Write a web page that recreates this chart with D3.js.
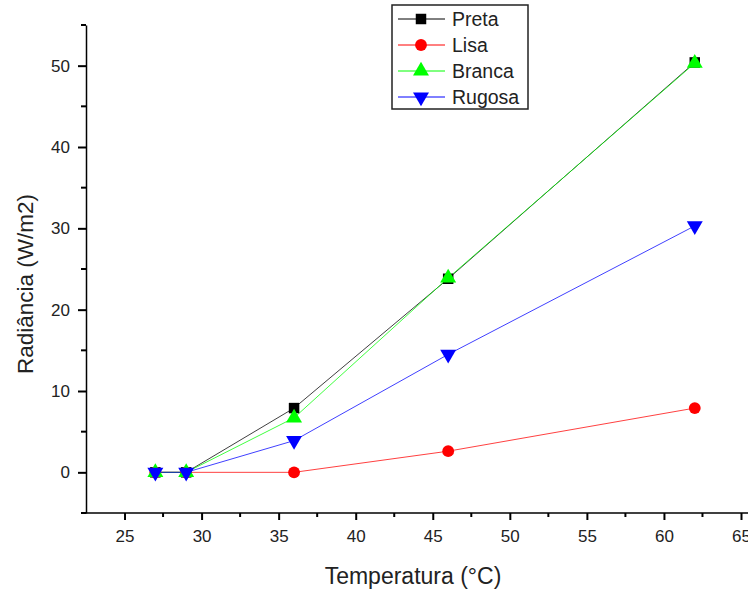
<!DOCTYPE html>
<meta charset="utf-8">
<style>
body { margin: 0; background: #fff; }
text { font-family: Arial, "Liberation Sans", sans-serif; fill: #222; }
</style>
<svg width="748" height="592"></svg>
<script src="https://d3js.org/d3.v7.min.js"></script>
<script>

var temps = [27, 29, 36, 46, 62];
var preta = [0, 0, 7.9, 23.8, 50.4];
var lisa = [0, 0, 0, 2.6, 7.9];
var branca = [0, 0, 6.7, 23.9, 50.3];
var rugosa = [0, 0, 3.9, 14.5, 30.3];
var xTicks = [25, 30, 35, 40, 45, 50, 55, 60, 65];
var yTicks = [0, 10, 20, 30, 40, 50];

var series = [
  {name: "Preta", values: preta, color: "#000000", symbol: d3.symbolSquare},
  {name: "Lisa", values: lisa, color: "#ff0000", symbol: d3.symbolCircle},
  {name: "Branca", values: branca, color: "#00ff00", symbol: d3.symbolTriangle},
  {name: "Rugosa", values: rugosa, color: "#0000ff", symbol: "down"}
];

var svg = d3.select("svg");

var x = d3.scaleLinear().domain([22.5, 65]).range([86, 741]),
    y = d3.scaleLinear().domain([-5, 55]).range([513, 25]);

// axes
var gx = svg.append("g").attr("transform", "translate(0,513)");
gx.call(d3.axisBottom(x).tickValues(xTicks).tickSize(7).tickPadding(10).tickSizeOuter(0));
gx.select(".domain").attr("d", "M86,0H748");
gx.selectAll(".tick line").attr("stroke-width", 2);
gx.selectAll(".tick text").attr("font-size", 17);
gx.selectAll(".minor").data(d3.range(27.5, 65, 5)).enter().append("line")
    .attr("x1", function(d) { return x(d); }).attr("x2", function(d) { return x(d); })
    .attr("y1", 0).attr("y2", 4).attr("stroke", "#000").attr("stroke-width", 2);

var gy = svg.append("g").attr("transform", "translate(86,0)");
gy.call(d3.axisLeft(y).tickValues(yTicks).tickSize(8).tickPadding(8).tickSizeOuter(0));
gy.selectAll(".tick line").attr("stroke-width", 2);
gy.selectAll(".tick text").attr("font-size", 17);
gy.selectAll(".minor").data(d3.range(-5, 56, 10)).enter().append("line")
    .attr("y1", function(d) { return y(d); }).attr("y2", function(d) { return y(d); })
    .attr("x1", 0).attr("x2", -5).attr("stroke", "#000").attr("stroke-width", 2);
svg.selectAll(".domain").attr("stroke-width", 1.5);

svg.append("text").attr("x", 413).attr("y", 584).attr("text-anchor", "middle")
    .attr("font-size", 23).text("Temperatura (°C)");
svg.append("text").attr("transform", "translate(33,284) rotate(-90)")
    .attr("text-anchor", "middle").attr("font-size", 22.5).text("Radiância (W/m2)");

function sym(s, size) {
  if (s.symbol === "down") {
    return d3.symbol().type(d3.symbolTriangle).size(size)();
  }
  return d3.symbol().type(s.symbol).size(size)();
}

var line = d3.line()
    .x(function(d, i) { return x(temps[i]); })
    .y(function(d) { return y(d); });

series.forEach(function(s) {
  svg.append("path").attr("d", line(s.values)).attr("fill", "none")
      .attr("stroke", s.color).attr("stroke-width", 1).attr("stroke-opacity", 0.75);
});
series.forEach(function(s) {
  svg.selectAll(null).data(s.values).enter().append("path")
      .attr("d", sym(s, 110))
      .attr("transform", function(d, i) {
        return "translate(" + x(temps[i]) + "," + y(d) + ")" + (s.symbol === "down" ? " rotate(180)" : "");
      })
      .attr("fill", s.color);
});

// legend
var lg = svg.append("g");
lg.append("rect").attr("x", 392).attr("y", 5).attr("width", 136).attr("height", 104)
    .attr("fill", "#fff").attr("stroke", "#222").attr("stroke-width", 1.5);
series.forEach(function(s, i) {
  var ly = 19 + i * 26;
  lg.append("line").attr("x1", 398).attr("x2", 445).attr("y1", ly).attr("y2", ly)
      .attr("stroke", s.color).attr("stroke-width", 1);
  lg.append("path").attr("d", sym(s, 110))
      .attr("transform", "translate(421," + ly + ")" + (s.symbol === "down" ? " rotate(180)" : ""))
      .attr("fill", s.color);
  lg.append("text").attr("x", 452).attr("y", ly).attr("dy", "0.36em")
      .attr("font-size", 19.5).text(s.name);
});

</script>
